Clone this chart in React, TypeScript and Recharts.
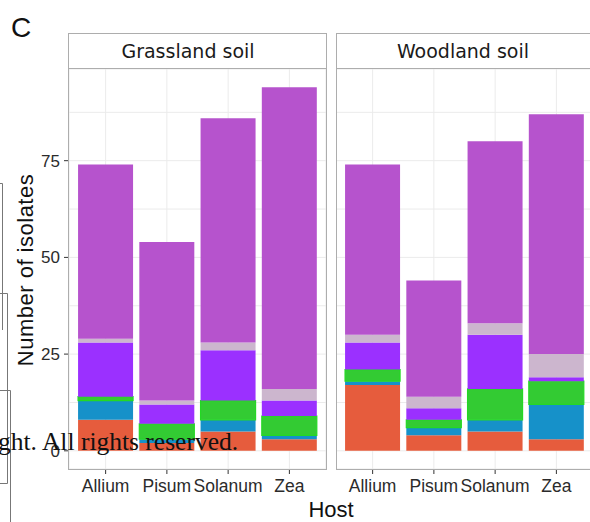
import React from 'react';
import { BarChart, Bar, XAxis, YAxis, CartesianGrid } from 'recharts';

const hosts = ['Allium', 'Pisum', 'Solanum', 'Zea'];
const yTicks = [0, 12.5, 25, 37.5, 50, 62.5, 75, 87.5];

// Grassland soil, stacked from the bottom
const grassRed = [8, 2, 5, 3];
const grassBlue = [5, 1, 3, 1];
const grassGreen = [1, 4, 5, 5];
const grassPurple = [14, 5, 13, 4];
const grassLavender = [1, 1, 2, 3];
const grassOrchid = [45, 41, 58, 78];

// Woodland soil
const woodRed = [17, 4, 5, 3];
const woodBlue = [1, 2, 3, 9];
const woodGreen = [3, 2, 8, 6];
const woodPurple = [7, 3, 14, 1];
const woodLavender = [2, 3, 3, 6];
const woodOrchid = [44, 30, 47, 62];

const series = [
  { key: 'red', fill: '#E65C3D' },
  { key: 'blue', fill: '#1691C9' },
  { key: 'green', fill: '#33CB33', stroke: '#24D824' },
  { key: 'purple', fill: '#9B30FF' },
  { key: 'lavender', fill: '#CCB6CE' },
  { key: 'orchid', fill: '#B653CD' },
];

const grassland = hosts.map((host, i) => ({
  host,
  red: grassRed[i],
  blue: grassBlue[i],
  green: grassGreen[i],
  purple: grassPurple[i],
  lavender: grassLavender[i],
  orchid: grassOrchid[i],
}));

const woodland = hosts.map((host, i) => ({
  host,
  red: woodRed[i],
  blue: woodBlue[i],
  green: woodGreen[i],
  purple: woodPurple[i],
  lavender: woodLavender[i],
  orchid: woodOrchid[i],
}));

const DOMAIN: [number, number] = [-4.7, 98.7];
const SANS = '"Liberation Sans", Arial, sans-serif';
const STRIP_FONT = '"DejaVu Sans", Verdana, sans-serif';

function YTick(props: any) {
  const { x, y, payload } = props;
  if (payload.value % 25 !== 0) return <g />;
  return (
    <g>
      <line x1={x + 4} x2={x + 9} y1={y} y2={y} stroke="#333" strokeWidth={1} />
      <text x={x} y={y} dy={6} textAnchor="end" fontSize={17} fill="#2B2B2B" fontFamily={SANS}>
        {payload.value}
      </text>
    </g>
  );
}

function Panel({ data, showY, width }: { data: any[]; showY: boolean; width: number }) {
  return (
    <BarChart
      width={width}
      height={522}
      data={data}
      margin={{ top: 69, right: 3, bottom: 23, left: 0 }}
      barCategoryGap="5%"
    >
      <CartesianGrid stroke="#EBEBEB" strokeWidth={1} />
      <XAxis
        dataKey="host"
        padding={{ left: 6, right: 6 }}
        height={30}
        tickSize={5}
        tickMargin={6}
        axisLine={false}
        tickLine={{ stroke: '#333' }}
        tick={{ fontSize: 17.5, fill: '#2B2B2B', fontFamily: SANS }}
        interval={0}
      />
      <YAxis
        type="number"
        domain={DOMAIN}
        allowDataOverflow
        ticks={yTicks}
        width={showY ? 69 : 0}
        tickSize={5}
        tickMargin={4}
        axisLine={false}
        tickLine={false}
        tick={showY ? <YTick /> : () => <g />}
      />
      {series.map((s) => (
        <Bar
          key={s.key}
          dataKey={s.key}
          stackId="a"
          fill={s.fill}
          stroke={s.stroke}
          strokeWidth={s.stroke ? 1.2 : 0}
          isAnimationActive={false}
        />
      ))}
    </BarChart>
  );
}

export default function App() {
  return (
    <div
      style={{
        position: 'fixed',
        left: 0,
        top: 0,
        width: 590,
        height: 522,
        overflow: 'hidden',
        background: '#fff',
      }}
    >
      <div style={{ position: 'absolute', left: 0, top: 0 }}>
        <Panel data={grassland} showY width={329} />
      </div>
      <div style={{ position: 'absolute', left: 336, top: 0 }}>
        <Panel data={woodland} showY={false} width={260} />
      </div>
      <svg
        width={590}
        height={522}
        style={{ position: 'absolute', left: 0, top: 0, pointerEvents: 'none' }}
      >
        {/* panel borders and facet strips */}
        <rect x={68.5} y={68.5} width={258} height={401} fill="none" stroke="#ADADAD" />
        <rect x={336.5} y={68.5} width={258} height={401} fill="none" stroke="#ADADAD" />
        <rect x={68.5} y={33.5} width={258} height={35} fill="#fff" stroke="#ADADAD" />
        <rect x={336.5} y={33.5} width={258} height={35} fill="#fff" stroke="#ADADAD" />
        <text x={188} y={58} textAnchor="middle" fontSize={19} fill="#1A1A1A" fontFamily={STRIP_FONT}>
          Grassland soil
        </text>
        <text x={463} y={58} textAnchor="middle" fontSize={19} fill="#1A1A1A" fontFamily={STRIP_FONT}>
          Woodland soil
        </text>

        {/* axis titles */}
        <text x={331} y={517} textAnchor="middle" fontSize={22} fill="#111" fontFamily={SANS}>
          Host
        </text>
        <text
          x={0}
          y={0}
          transform="translate(33,270) rotate(-90)"
          textAnchor="middle"
          fontSize={22}
          fill="#111"
          fontFamily={SANS}
          letterSpacing={0.5}
        >
          Number of isolates
        </text>

        {/* panel letter */}
        <text x={11} y={37} fontSize={28} fill="#111" fontFamily={SANS}>
          C
        </text>

        {/* remnants of the neighbouring figure */}
        <g stroke="#777" strokeWidth={1} fill="none">
          <path d="M0 183.5 H2.5 V330" />
          <path d="M0 293.5 H7.5 V483.5 H0" />
          <path d="M0 390.5 H10.5 V522" />
        </g>

        {/* watermark */}
        <text x={-2} y={450} fontSize={25.5} fill="#111" fontFamily='"Liberation Serif", "Times New Roman", serif'>
          ght. All rights reserved.
        </text>
      </svg>
    </div>
  );
}
